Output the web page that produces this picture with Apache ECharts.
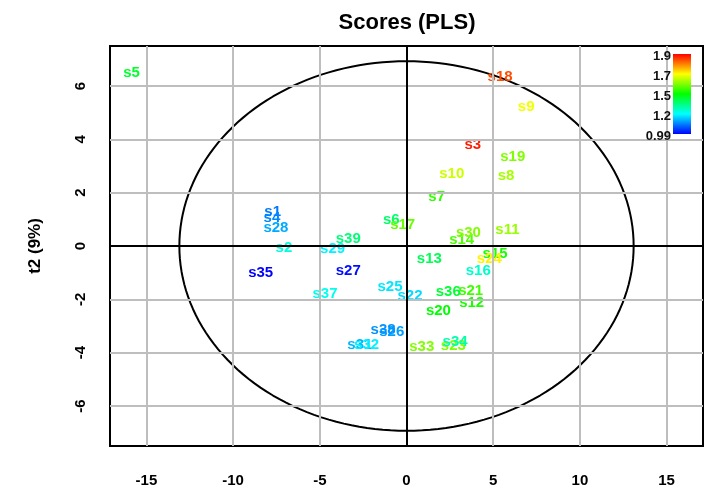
<!DOCTYPE html>
<html>
<head>
<meta charset="utf-8">
<script src="https://cdn.jsdelivr.net/npm/echarts@6/dist/echarts.min.js"></script>
<style>
  html, body { margin: 0; padding: 0; background: #ffffff; }
  #chart { width: 720px; height: 492px; }
</style>
</head>
<body>
<div id="chart"></div>
<script>
// PLS score plot: sample names, scores on components t1 / t2, and response used for colouring
const sampleNames = ['s1','s2','s3','s4','s5','s6','s7','s8','s9','s10',
  's11','s12','s13','s14','s15','s16','s17','s18','s19','s20',
  's21','s22','s23','s24','s25','s26','s27','s28','s29','s30',
  's31','s32','s33','s34','s35','s36','s37','s38','s39'];
const scoreT1 = [-7.72, -7.07, 3.82, -7.76, -15.86, -0.88, 1.74, 5.74, 6.90, 2.61,
  5.82, 3.76, 1.32, 3.18, 5.11, 4.14, -0.22, 5.40, 6.13, 1.84,
  3.70, 0.20, 2.70, 4.78, -0.95, -0.85, -3.36, -7.53, -4.26, 3.57,
  -2.69, -2.30, 0.88, 2.80, -8.41, 2.41, -4.70, -1.35, -3.36];
const scoreT2 = [1.29, -0.06, 3.81, 1.04, 6.50, 0.97, 1.85, 2.64, 5.20, 2.69,
  0.60, -2.12, -0.49, 0.22, -0.28, -0.93, 0.79, 6.33, 3.35, -2.42,
  -1.68, -1.87, -3.75, -0.50, -1.55, -3.21, -0.94, 0.69, -0.12, 0.48,
  -3.69, -3.69, -3.77, -3.59, -0.99, -1.71, -1.80, -3.15, 0.25];
const responseY = [1.09, 1.24, 1.88, 1.10, 1.45, 1.38, 1.54, 1.63, 1.69, 1.66,
  1.62, 1.52, 1.40, 1.56, 1.52, 1.26, 1.58, 1.84, 1.60, 1.50,
  1.55, 1.17, 1.60, 1.71, 1.18, 1.12, 1.00, 1.13, 1.19, 1.60,
  1.14, 1.19, 1.60, 1.30, 0.99, 1.44, 1.22, 1.11, 1.36];

// axis ticks
const xTicks = [-15, -10, -5, 0, 5, 10, 15];
const yTicks = [-6, -4, -2, 0, 2, 4, 6];

// colour key: response breaks placed at evenly spaced positions along the bar
const colorBreaks = [0.99, 1.2, 1.5, 1.7, 1.9];
const colorBreakLabels = ['0.99', '1.2', '1.5', '1.7', '1.9'];
const palette = ['#0000ff', '#00ffff', '#00ff00', '#ffff00', '#ff0000'];

// confidence ellipse radii (t1, t2)
const ellipseRadiusT1 = 13.1;
const ellipseRadiusT2 = 6.93;

const FONT = 'Liberation Sans, Arial, sans-serif';

function hexToRgb(h) {
  return [parseInt(h.slice(1, 3), 16), parseInt(h.slice(3, 5), 16), parseInt(h.slice(5, 7), 16)];
}
// position of a response value on the key (0 bottom .. 1 top)
function keyPosition(v) {
  const n = colorBreaks.length - 1;
  if (v <= colorBreaks[0]) return 0;
  if (v >= colorBreaks[n]) return 1;
  for (let i = 0; i < n; i++) {
    if (v <= colorBreaks[i + 1]) {
      return (i + (v - colorBreaks[i]) / (colorBreaks[i + 1] - colorBreaks[i])) / n;
    }
  }
  return 1;
}
function colorAt(t) {
  const n = palette.length - 1;
  const s = Math.min(n - 1e-9, Math.max(0, t * n));
  const i = Math.floor(s), f = s - i;
  const a = hexToRgb(palette[i]), b = hexToRgb(palette[i + 1]);
  const c = a.map((x, k) => Math.round(x + (b[k] - x) * f));
  return 'rgb(' + c.join(',') + ')';
}

const pointData = sampleNames.map((name, i) => {
  const col = colorAt(keyPosition(responseY[i]));
  return {
    name: name,
    value: [scoreT1[i], scoreT2[i]],
    label: { color: col }
  };
});

const ellipsePts = [];
for (let k = 0; k <= 360; k += 2) {
  const a = k * Math.PI / 180;
  ellipsePts.push([ellipseRadiusT1 * Math.cos(a), ellipseRadiusT2 * Math.sin(a)]);
}

const gridLines = [];
xTicks.forEach(v => gridLines.push({ xAxis: v, lineStyle: { color: '#bebebe', width: 2, type: 'solid' } }));
yTicks.forEach(v => gridLines.push({ yAxis: v, lineStyle: { color: '#bebebe', width: 2, type: 'solid' } }));
const zeroLines = [
  { xAxis: 0, lineStyle: { color: '#000', width: 2, type: 'solid' } },
  { yAxis: 0, lineStyle: { color: '#000', width: 2, type: 'solid' } }
];

// colour key geometry
const keyX = 673, keyY = 54, keyW = 18, keyH = 80;
const keyGraphics = [{
  type: 'rect',
  shape: { x: keyX, y: keyY, width: keyW, height: keyH },
  style: {
    fill: new echarts.graphic.LinearGradient(0, 1, 0, 0,
      palette.map((c, i) => ({ offset: i / (palette.length - 1), color: c })))
  },
  z: 20
}];
colorBreakLabels.forEach((txt, i) => {
  keyGraphics.push({
    type: 'text',
    x: keyX - 2,
    y: keyY + keyH - i * keyH / (colorBreakLabels.length - 1) + 2,
    style: {
      text: txt, fill: '#111', font: 'bold 13px ' + FONT,
      textAlign: 'right', textVerticalAlign: 'middle'
    },
    z: 20
  });
});

const chart = echarts.init(document.getElementById('chart'), null, { renderer: 'canvas' });
chart.setOption({
  animation: false,
  backgroundColor: '#ffffff',
  title: {
    text: 'Scores (PLS)',
    left: 402, top: 7,
    textAlign: 'center',
    textStyle: { fontFamily: FONT, fontWeight: 'bold', fontSize: 22, color: '#000' }
  },
  grid: {
    left: 110, right: 17, top: 46, bottom: 46,
    show: true, borderColor: '#000', borderWidth: 2, backgroundColor: 'transparent'
  },
  xAxis: {
    type: 'value', min: -17.1, max: 17.1,
    axisLine: { show: false },
    splitLine: { show: false },
    axisTick: { show: true, customValues: xTicks, length: 8, lineStyle: { color: '#000', width: 1.5 } },
    axisLabel: {
      customValues: xTicks, margin: 27,
      fontFamily: FONT, fontWeight: 'bold', fontSize: 15, color: '#000'
    }
  },
  yAxis: {
    type: 'value', min: -7.5, max: 7.5,
    name: 't2 (9%)', nameLocation: 'middle', nameGap: 66, nameRotate: 90,
    nameTextStyle: { fontFamily: FONT, fontWeight: 'bold', fontSize: 17, color: '#000' },
    axisLine: { show: false },
    splitLine: { show: false },
    axisTick: { show: true, customValues: yTicks, length: 8, lineStyle: { color: '#000', width: 1.5 } },
    axisLabel: {
      customValues: yTicks, rotate: 90, margin: 22,
      fontFamily: FONT, fontWeight: 'bold', fontSize: 15, color: '#000'
    }
  },
  series: [
    {
      type: 'scatter', data: [], silent: true, z: 1,
      markLine: { silent: true, symbol: ['none', 'none'], label: { show: false }, animation: false, data: gridLines }
    },
    {
      type: 'scatter', data: [], silent: true, z: 2,
      markLine: { silent: true, symbol: ['none', 'none'], label: { show: false }, animation: false, data: zeroLines }
    },
    {
      type: 'line', data: ellipsePts, showSymbol: false, silent: true, z: 3,
      lineStyle: { color: '#000', width: 2 }
    },
    {
      type: 'scatter', data: pointData, z: 4,
      symbolSize: 2, itemStyle: { color: 'rgba(0,0,0,0)', opacity: 1 },
      label: {
        show: true, position: 'inside', formatter: '{b}',
        fontFamily: FONT, fontWeight: 'bold', fontSize: 15,
        textBorderWidth: 0
      },
      labelLayout: { hideOverlap: false }
    }
  ],
  graphic: keyGraphics
});
</script>
</body>
</html>
